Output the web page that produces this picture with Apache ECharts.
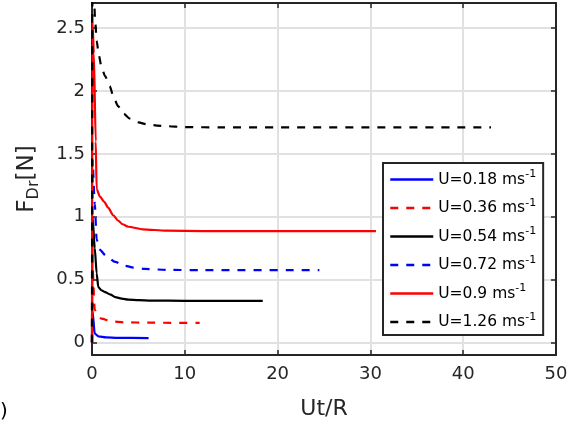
<!DOCTYPE html>
<html>
<head>
<meta charset="utf-8">
<script src="https://cdn.jsdelivr.net/npm/echarts@6/dist/echarts.min.js"></script>
<style>
  html, body { margin: 0; padding: 0; background: #fff; }
  #chart { width: 585px; height: 425px; }
</style>
</head>
<body>
<div id="chart"></div>
<script>
// U values (m/s) and the force curves
const speeds = ['0.18', '0.36', '0.54', '0.72', '0.9', '1.26'];
const colors = ['#0000ff', '#ff0000', '#000000', '#0000ff', '#ff0000', '#000000'];
const dashed = [false, true, false, true, false, true];

const t018 = [0, 0.05, 0.3, 0.7, 1.5, 2.8, 6.1];
const f018 = [0, 0.25, 0.07, 0.048, 0.04, 0.037, 0.035];

const t036 = [0, 0.05, 0.3, 0.6, 1.0, 2.1, 3.5, 6, 11.6];
const f036 = [0, 0.6, 0.26, 0.21, 0.19, 0.168, 0.16, 0.157, 0.155];

const t054 = [0, 0.05, 0.3, 0.5, 0.68, 1.0, 1.4, 2.0, 2.5, 3.2, 3.9, 5, 6.4, 10, 18.4];
const f054 = [0, 1.0, 0.75, 0.55, 0.44, 0.415, 0.40, 0.38, 0.36, 0.348, 0.34, 0.336, 0.333, 0.331, 0.33];

const t072 = [0, 0.05, 0.3, 0.5, 0.8, 1.5, 2.5, 3.5, 4.5, 5.7, 8, 12, 24.5];
const f072 = [0, 1.45, 1.1, 0.82, 0.74, 0.69, 0.64, 0.61, 0.595, 0.585, 0.577, 0.575, 0.575];

const t090 = [0, 0.05, 0.2, 0.4, 0.5, 0.86, 1.3, 1.76, 2.3, 2.8, 3.3, 3.9, 5.5, 8, 12, 30.6];
const f090 = [0, 2.55, 2.3, 1.6, 1.22, 1.16, 1.12, 1.07, 1.01, 0.97, 0.94, 0.92, 0.90, 0.889, 0.886, 0.885];

const t126 = [0, 0.05, 0.2, 0.35, 0.5, 0.75, 1.0, 1.4, 1.9, 2.3, 2.8, 3.4, 4.1, 5.0, 5.9, 7, 8, 10, 14, 43];
const f126 = [0, 3.3, 2.75, 2.55, 2.4, 2.28, 2.2, 2.12, 2.04, 1.96, 1.88, 1.82, 1.78, 1.75, 1.735, 1.725, 1.72, 1.713, 1.71, 1.71];

const yTicks = [0, 0.5, 1, 1.5, 2, 2.5];

const times = [t018, t036, t054, t072, t090, t126];
const forces = [f018, f036, f054, f072, f090, f126];

const FONT = 'DejaVu Sans';
const INK = '#262626';

var myChart = echarts.init(document.getElementById('chart'));

const series = speeds.map((u, i) => ({
  name: 'U=' + u,
  type: 'line',
  symbol: 'none',
  smooth: 0.25,
  smoothMonotone: 'x',
  xAxisIndex: 0,
  yAxisIndex: 0,
  data: times[i].map((t, k) => [t, forces[i][k]]),
  lineStyle: {
    color: colors[i],
    width: 2.2,
    type: dashed[i] ? [8, 8] : 'solid'
  },
  itemStyle: { color: colors[i] },
  animation: false
}));

const frameLine = { show: true, onZero: false, lineStyle: { color: INK, width: 2 } };
const frameTick = { show: true, inside: true, length: 5, lineStyle: { color: INK, width: 1.5 } };
const gridLine = { show: true, lineStyle: { color: '#e1e1e1', width: 2 } };

myChart.setOption({
  animation: false,
  grid: { left: 92, right: 29, top: 3, bottom: 70 },
  xAxis: [
    {
      type: 'value', min: 0, max: 50, interval: 10,
      axisLine: frameLine,
      axisTick: frameTick,
      axisLabel: { color: INK, fontFamily: FONT, fontSize: 18, margin: 10 },
      splitLine: gridLine,
      name: 'Ut/R',
      nameLocation: 'middle',
      nameGap: 43,
      nameTextStyle: { color: INK, fontFamily: FONT, fontSize: 22 }
    },
    {
      type: 'value', min: 0, max: 50, interval: 10, position: 'top',
      axisLine: frameLine,
      axisTick: frameTick,
      axisLabel: { show: false },
      splitLine: { show: false }
    }
  ],
  yAxis: [
    {
      type: 'value', min: -0.1, max: 2.7,
      axisLine: frameLine,
      axisTick: { ...frameTick, customValues: yTicks },
      axisLabel: { color: INK, fontFamily: FONT, fontSize: 18, margin: 7, customValues: yTicks },
      splitLine: gridLine,
      name: '{a|F}{s|Dr}{a|[N]}',
      nameLocation: 'middle',
      nameGap: 50,
      nameTextStyle: {
        color: INK,
        fontFamily: FONT,
        rich: {
          a: { fontSize: 23, fontFamily: FONT, color: INK },
          s: { fontSize: 16, fontFamily: FONT, color: INK, padding: [13, 0, 0, 0] }
        }
      }
    },
    {
      type: 'value', min: -0.1, max: 2.7, position: 'right',
      axisLine: frameLine,
      axisTick: { ...frameTick, customValues: yTicks },
      axisLabel: { show: false },
      splitLine: { show: false }
    }
  ],
  legend: {
    orient: 'vertical',
    left: 383,
    top: 163,
    padding: [6, 7, 5, 6],
    itemWidth: 43,
    itemHeight: 14,
    itemGap: 10,
    backgroundColor: '#fff',
    borderColor: INK,
    borderWidth: 2,
    borderRadius: 0,
    itemStyle: { opacity: 0 },
    lineStyle: { width: 2.5 },
    data: series.map(s => s.name),
    formatter: name => '{a|' + name + ' ms}{sup|-1}',
    textStyle: {
      color: '#000',
      fontFamily: FONT,
      rich: {
        a: { fontSize: 15.5, fontFamily: FONT, color: '#000' },
        sup: { fontSize: 11, fontFamily: FONT, color: '#000', padding: [0, 0, 10, 0] }
      }
    }
  },
  graphic: [
    { type: 'text', left: 0, top: 402, style: { text: ')', fontFamily: FONT, fontSize: 20, fill: '#000' } }
  ],
  series: series
});
</script>
</body>
</html>
